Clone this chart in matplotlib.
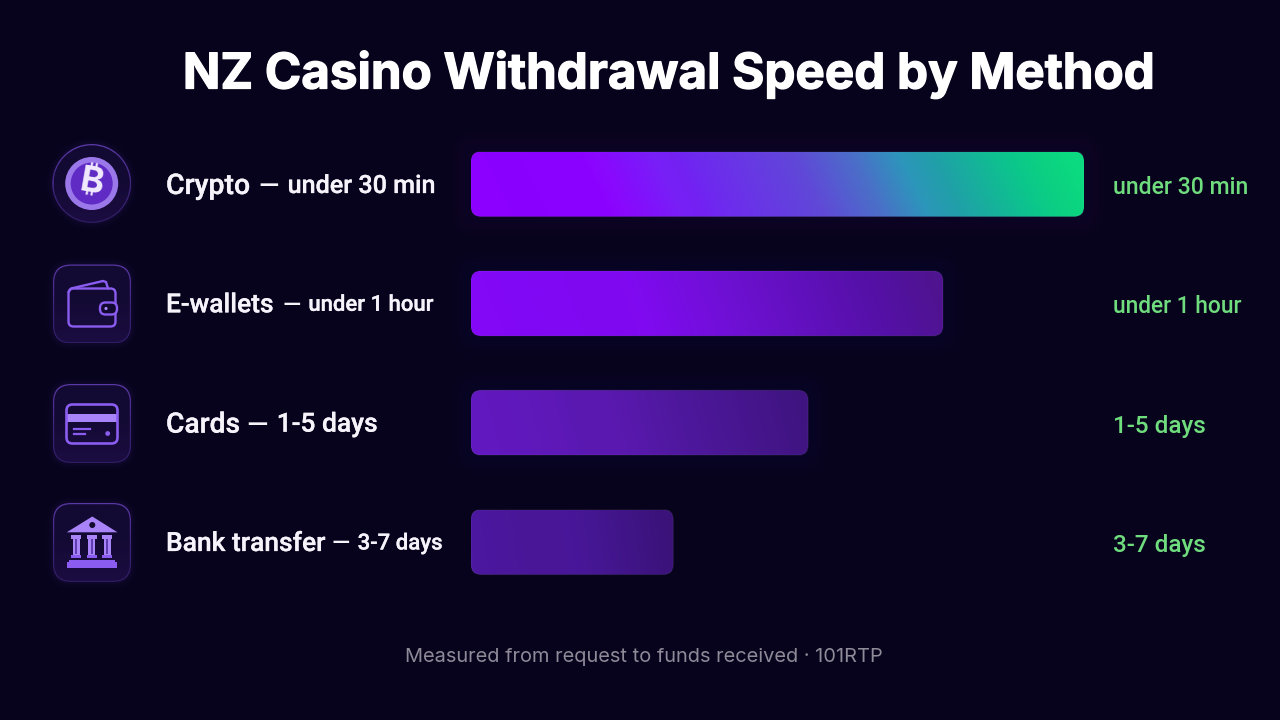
import numpy as np
import matplotlib
matplotlib.use("Agg")
import matplotlib.pyplot as plt
import matplotlib.patheffects as pe
from matplotlib.colors import LinearSegmentedColormap
from matplotlib.patches import FancyBboxPatch, Circle, Polygon, Rectangle

# data
methods = ["Crypto", "E-wallets", "Cards", "Bank transfer"]
times = ["under 30 min", "under 1 hour", "1-5 days", "3-7 days"]
bar_lengths = [100, 77, 55, 33]  # relative speed, no scale on the chart
title = "NZ Casino Withdrawal Speed by Method"
footer = "Measured from request to funds received · 101RTP"
name_sizes = [20.5, 19, 20.3, 19]
detail_sizes = [18.1, 15.9, 19, 16]
value_sizes = [16.6, 16.4, 17.5, 17.5]
name_gaps = [8, 9, 6, 6]
dash_gaps = [9, 8, 9, 8]
text_shift = [0, 0, 0, 0]
value_shift = [1, 1, 2, 2]

# colours
BG = "#07031c"
ICON = "#8a5cf0"
ICON_LIGHT = "#a884f8"
bar_stops = [
    [(0, "#9400ff"), (.2, "#8f02ff"), (.28, "#7f14fb"), (.38, "#6f30f0"), (.55, "#6050d8"),
     (.65, "#4a78c8"), (.72, "#2e9cbc"), (.78, "#20b0a8"), (.91, "#0ad88a"), (1, "#08ea78")],
    [(0, "#8c08ff"), (.3, "#8408f8"), (.6, "#6a12cc"), (.85, "#5518a8"), (1, "#4f1c90")],
    [(0, "#6a1cc8"), (.25, "#661cc0"), (.6, "#4f189f"), (1, "#3f1480")],
    [(0, "#5520a8"), (.5, "#48189a"), (1, "#3a1278")],
]
glow_colors = ["#8a20ff", "#8010f0", "#5a18b0", "#4a1698"]

fig = plt.figure(figsize=(12.8, 7.2), dpi=100, facecolor=BG)

# overlay in pixel coordinates for text and icons
page = fig.add_axes([0, 0, 1, 1], zorder=2)
page.axis("off")
page.patch.set_alpha(0)

# bar axes: x 471-1084 px, rows 119.33 px apart centred on y=184
ax = fig.add_axes([471 / 1280, 1 - 601.7 / 720, 613 / 1280, 477.3 / 720], zorder=1)
ax.axis("off")
bar_h = 65 / 119.33
ux = 6.13  # px per x unit
uy = 119.33  # px per row
for i, val in enumerate(bar_lengths):
    y0 = i - bar_h / 2
    for pad in range(2, 26, 3):
        ax.add_patch(FancyBboxPatch((-pad / ux, y0 - pad / uy), val + 2 * pad / ux, bar_h + 2 * pad / uy,
                                    boxstyle=f"round,pad=0,rounding_size={(10 + pad) / ux}",
                                    mutation_aspect=ux / uy, fc=glow_colors[i], ec="none",
                                    alpha=0.006, clip_on=False))
    xx, yy = np.meshgrid(np.linspace(0, 1, 300), np.linspace(0, 1, 40))
    grad = np.clip(xx + 0.05 * (1 - yy) - 0.025, 0, 1)
    cmap = LinearSegmentedColormap.from_list(f"bar{i}", bar_stops[i])
    im = ax.imshow(grad, cmap=cmap, vmin=0, vmax=1, aspect="auto", interpolation="bilinear",
                   extent=(0, val, i + bar_h / 2, i - bar_h / 2))
    box = FancyBboxPatch((0, y0), val, bar_h, boxstyle=f"round,pad=0,rounding_size={10 / ux}",
                         mutation_aspect=ux / uy, fc="none", ec=(1, 1, 1, 0.05), lw=1)
    ax.add_patch(box)
    im.set_clip_path(box)
ax.set_xlim(0, 100)
ax.set_ylim(3.5, -0.5)

edge_cmap = LinearSegmentedColormap.from_list("edge", ["#5a3aa4", "#3c2678", "#2a1a58"])
fill_cmap = LinearSegmentedColormap.from_list("fill", ["#0d0626", "#0e0729", "#150b36"])
vert = np.linspace(0, 1, 60).reshape(-1, 1)


def rounded(x, y, w, h, r, cmap):
    # vertical gradient clipped to a rounded box
    im = page.imshow(vert, cmap=cmap, aspect="auto", extent=(x, x + w, y + h, y), interpolation="bilinear")
    patch = FancyBboxPatch((x, y), w, h, boxstyle=f"round,pad=0,rounding_size={r}", fc="none", ec="none")
    page.add_patch(patch)
    im.set_clip_path(patch)


def disc(cx, cy, r, cmap):
    im = page.imshow(vert, cmap=cmap, aspect="auto", extent=(cx - r, cx + r, cy + r, cy - r), interpolation="bilinear")
    patch = Circle((cx, cy), r, fc="none", ec="none")
    page.add_patch(patch)
    im.set_clip_path(patch)


def tile(cy):
    for pad, a in ((6, .02), (4, .03), (2, .04)):
        page.add_patch(FancyBboxPatch((53 - pad, cy - 39.5 - pad), 78 + 2 * pad, 79 + 2 * pad,
                                      boxstyle=f"round,pad=0,rounding_size={18 + pad}",
                                      fc="#6a3cc8", ec="none", alpha=a))
    rounded(53, cy - 39.5, 78, 79, 18, edge_cmap)
    rounded(54.2, cy - 38.3, 75.6, 76.6, 17, fill_cmap)


def bitcoin(cx, cy):
    for pad, a in ((6, .02), (4, .03), (2, .04)):
        page.add_patch(Circle((cx, cy), 39.5 + pad, fc="#6a3cc8", ec="none", alpha=a))
    disc(cx, cy, 39.5, edge_cmap)
    disc(cx, cy, 38.2, fill_cmap)
    page.add_patch(Circle((cx, cy), 26.5, fc="#9a78ea", ec="none"))
    page.add_patch(Circle((cx, cy), 21, fc="#5f2bc4", ec="none"))
    page.text(cx, cy, "₿", color="#f2ebff", fontsize=26, fontweight="bold", ha="center", va="center",
              rotation=-10, family=["Inter", "Noto Sans", "Roboto", "Open Sans", "Lato", "Liberation Sans", "DejaVu Sans"])


def wallet(cy):
    o = cy - 304
    page.add_patch(FancyBboxPatch((68.5, 288.5 + o), 47, 38, boxstyle="round,pad=0,rounding_size=5",
                                  fc="none", ec=ICON, lw=1.7))
    page.plot([68.5, 71, 103, 106, 108], [292 + o, 288.5 + o, 281 + o, 282 + o, 288.5 + o], color=ICON, lw=1.7,
              solid_capstyle="round", solid_joinstyle="round")
    page.add_patch(FancyBboxPatch((100, 302.5 + o), 17, 12, boxstyle="round,pad=0,rounding_size=5.5",
                                  fc="#110930", ec=ICON, lw=1.7))
    page.add_patch(Circle((106, 308.5 + o), 1.6, fc=ICON_LIGHT, ec="none"))


def card(cy):
    o = cy - 423.5
    page.add_patch(Rectangle((67, 414 + o), 50, 8, fc=ICON_LIGHT, ec="none"))
    page.add_patch(FancyBboxPatch((66.5, 404.5 + o), 51, 39, boxstyle="round,pad=0,rounding_size=6",
                                  fc="none", ec=ICON, lw=1.9))
    page.plot([74, 90], [428.5 + o, 428.5 + o], color=ICON, lw=1.6)
    page.plot([74, 85], [434 + o, 434 + o], color=ICON, lw=1.6)
    page.add_patch(Circle((107.7, 433.5 + o), 2.4, fc=ICON, ec="none"))


def bank(cy):
    o = cy - 542.5
    page.add_patch(Polygon([(92.3, 516.5 + o), (117.5, 532.3 + o), (66.7, 532.3 + o)], fc=ICON_LIGHT, ec="none"))
    page.add_patch(Circle((92.3, 525 + o), 3, fc="#130a32", ec="none"))
    for x in (76, 91.7, 107.3):
        page.add_patch(Rectangle((x - 5, 535 + o), 10, 3.5, fc=ICON_LIGHT, ec="none"))
        page.add_patch(Rectangle((x - 3.5, 538.5 + o), 7, 16, fc=ICON_LIGHT, ec="none"))
        page.add_patch(Rectangle((x - 1, 539 + o), 2, 15, fc="#5f3fb0", ec="none"))
        page.add_patch(Rectangle((x - 5, 554.5 + o), 10, 3.5, fc=ICON, ec="none"))
    page.add_patch(Rectangle((69, 559.5 + o), 46, 2.5, fc=ICON, ec="none"))
    page.add_patch(Rectangle((66.7, 562 + o), 50, 5.7, fc=ICON, ec="none"))


bitcoin(91.7, 183.5)
tile(304)
wallet(304)
tile(423.5)
card(423.5)
tile(542.5)
bank(542.5)

page.set_xlim(0, 1280)
page.set_ylim(720, 0)

# text
heavy = [pe.withStroke(linewidth=0.9, foreground="#ffffff")]
soft = [pe.withStroke(linewidth=0.2, foreground="#f6f3fb")]
page.text(669, 75, title, color="#ffffff", fontsize=35.5, fontweight="bold", family="Inter",
          ha="center", va="center", path_effects=heavy)
page.text(643.5, 657, footer, color="#8e8a98", fontsize=14.4, family="Inter", ha="center", va="center")

renderer = fig.canvas.get_renderer()
for i, (m, t) in enumerate(zip(methods, times)):
    cy = 183.5 + i * uy + text_shift[i]
    name = page.text(166, cy, m, color="#f6f3fb", fontsize=name_sizes[i], fontweight="medium", family="Roboto",
                     ha="left", va="center_baseline", path_effects=soft)
    bb = name.get_window_extent(renderer)
    dash = page.text(bb.x1 + name_gaps[i], cy, "—", color="#f6f3fb", fontsize=detail_sizes[i] + 1,
                     fontweight="medium", family="Roboto", ha="left", va="center_baseline")
    bb2 = dash.get_window_extent(renderer)
    page.text(bb2.x1 + dash_gaps[i], cy, t, color="#f6f3fb", fontsize=detail_sizes[i], fontweight="medium",
              family="Roboto", ha="left", va="center_baseline", path_effects=soft)
    page.text(1113, 183.5 + i * uy + value_shift[i], t, color="#6fdc7e", fontsize=value_sizes[i],
              fontweight="medium", family="Roboto", ha="left", va="center_baseline")

fig.savefig("out.png", dpi=100, facecolor=BG)
